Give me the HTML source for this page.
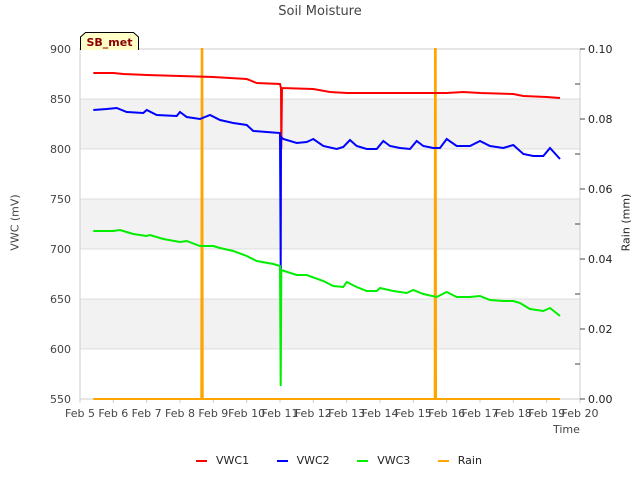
<!DOCTYPE html>
<html><head><meta charset="utf-8"><style>
body{margin:0;background:#fff;font-family:"Liberation Sans","DejaVu Sans",sans-serif}
svg text{font-family:"DejaVu Sans","Liberation Sans",sans-serif}
</style></head><body>
<svg id="c" width="640" height="480" xmlns="http://www.w3.org/2000/svg"></svg>
<script>
const vwc1Days=[5.4,6.0,6.3,7.0,8.0,9.0,10.0,10.3,11.0,11.03,11.04,11.06,12.0,12.5,13.0,14.0,15.0,16.0,16.5,17.0,18.0,18.3,19.0,19.4];
const vwc1Vals=[876,876,875,874,873,872,870,866,865,861,800,861,860,857,856,856,856,856,857,856,855,853,852,851];
const vwc2Days=[5.4,5.8,6.1,6.4,6.9,7.0,7.3,7.9,8.0,8.2,8.6,8.9,9.2,9.6,10.0,10.2,10.6,11.0,11.02,11.03,11.1,11.5,11.8,12.0,12.3,12.7,12.9,13.1,13.3,13.6,13.9,14.1,14.3,14.6,14.9,15.1,15.3,15.6,15.8,16.0,16.3,16.7,17.0,17.3,17.7,18.0,18.3,18.6,18.9,19.1,19.4];
const vwc2Vals=[839,840,841,837,836,839,834,833,837,832,830,834,829,826,824,818,817,816,680,812,810,806,807,810,803,800,802,809,803,800,800,808,803,801,800,808,803,801,801,810,803,803,808,803,801,804,795,793,793,801,790];
const vwc3Days=[5.4,6.0,6.2,6.6,7.0,7.1,7.5,8.0,8.2,8.6,9.0,9.2,9.6,10.0,10.3,10.8,11.0,11.02,11.04,11.5,11.8,12.3,12.6,12.9,13.0,13.3,13.6,13.9,14.0,14.4,14.8,15.0,15.3,15.7,16.0,16.3,16.7,17.0,17.3,17.7,18.0,18.2,18.5,18.9,19.1,19.4];
const vwc3Vals=[718,718,719,715,713,714,710,707,708,703,703,701,698,693,688,685,683,563,679,674,674,668,663,662,667,662,658,658,661,658,656,659,655,652,657,652,652,653,649,648,648,646,640,638,641,633];
const rainDays=[5.4,8.64,8.65,8.67,8.68,15.64,15.65,15.67,15.68,19.4];
const rainVals=[0,0,0.105,0.105,0,0,0.105,0.105,0,0];
const xTicks=[5,6,7,8,9,10,11,12,13,14,15,16,17,18,19,20];
const yTicks=[550,600,650,700,750,800,850,900];
const y2Ticks=[0,0.02,0.04,0.06,0.08,0.10];
const L=80,R=580,T=49,B=399;
const X=d=>L+(d-5)/15*(R-L);
const Y=v=>B-(v-550)/350*(B-T);
const Y2=v=>B-v/0.1*(B-T);
const svg=document.getElementById('c');const NS='http://www.w3.org/2000/svg';
function el(t,a,p){const e=document.createElementNS(NS,t);for(const k in a)e.setAttribute(k,a[k]);(p||svg).appendChild(e);return e;}
const clip=el('clipPath',{id:'pc'});el('rect',{x:L,y:T-1,width:R-L,height:B-T+2},clip);
[[800,850],[700,750],[600,650]].forEach(b=>{const r=el('rect',{x:L,y:Y(b[1]),width:R-L,height:Y(b[0])-Y(b[1]),fill:'#f2f2f2'});

});
yTicks.forEach(v=>{const g=el('line',{x1:L,x2:R,y1:Y(v),y2:Y(v),stroke:'#dcdcdc','stroke-width':1});


const t=el('text',{x:71,y:Y(v)+4,'text-anchor':'end','font-size':11,fill:'#444'});t.textContent=v;

});
el('rect',{x:L,y:T,width:R-L,height:B-T,fill:'none',stroke:'#ccc'});
xTicks.forEach(d=>{el('line',{x1:X(d),x2:X(d),y1:B,y2:B+4,stroke:'#ccc'});const t=el('text',{x:X(d),y:B+18,'text-anchor':'middle','font-size':11,fill:'#444'});t.textContent='Feb '+d;

});
y2Ticks.forEach(v=>{el('line',{x1:R,x2:R+5,y1:Y2(v),y2:Y2(v),stroke:'#444'});const t=el('text',{x:R+8,y:Y2(v)+4,'font-size':11,fill:'#222'});t.textContent=v.toFixed(2);

});
[0.01,0.03,0.05,0.07,0.09].forEach(v=>el('line',{x1:R-5,x2:R,y1:Y2(v),y2:Y2(v),stroke:'#444'}));
function series(days,vals,yf,color,name,w){const pts=days.map((d,i)=>X(d).toFixed(1)+','+yf(vals[i]).toFixed(1)).join(' ');
const p=el('polyline',{points:pts,fill:'none',stroke:color,'stroke-width':w,'clip-path':'url(#pc)'});

}
series(rainDays,rainVals,Y2,'orange','rain-line',2);
series(vwc1Days,vwc1Vals,Y,'red','vwc1-line',2);
series(vwc2Days,vwc2Vals,Y,'blue','vwc2-line',2);
series(vwc3Days,vwc3Vals,Y,'#00ee00','vwc3-line',2);
const lab=el('path',{d:'M80.5,50 L80.5,37 L85.5,32.5 L133.5,32.5 L138.5,37 L138.5,50',fill:'#ffffc8',stroke:'#000','stroke-width':1});


const lt=el('text',{x:109.5,y:46,'text-anchor':'middle','font-size':11,'font-weight':'bold',fill:'#8b0000'});lt.textContent='SB_met';


</script>
<div style="position:absolute;left:0;top:0;width:640px;height:480px;pointer-events:none;font-family:'DejaVu Sans','Liberation Sans',sans-serif;white-space:nowrap">
<div style="position:absolute;top:4px;width:640px;text-align:center;font-size:13px;color:#444">Soil Moisture</div>
<div style="position:absolute;left:-25px;top:216px;width:80px;text-align:center;font-size:11px;color:#444;transform:rotate(-90deg)">VWC (mV)</div>
<div style="position:absolute;left:586px;top:216px;width:80px;text-align:center;font-size:11px;color:#222;transform:rotate(-90deg)">Rain (mm)</div>
<div style="position:absolute;left:553px;top:423px;font-size:11px;color:#444">Time</div>
<div style="position:absolute;top:454px;left:196px;font-size:11px;color:#222">
<span><span style="display:inline-block;width:11px;height:2px;background:red;vertical-align:middle;margin-right:9px"></span>VWC1</span>
<span style="margin-left:24px"><span style="display:inline-block;width:11px;height:2px;background:blue;vertical-align:middle;margin-right:9px"></span>VWC2</span>
<span style="margin-left:24px"><span style="display:inline-block;width:11px;height:2px;background:#00ee00;vertical-align:middle;margin-right:9px"></span>VWC3</span>
<span style="margin-left:24px"><span style="display:inline-block;width:11px;height:2px;background:orange;vertical-align:middle;margin-right:9px"></span>Rain</span>
</div></div>
</body></html>
